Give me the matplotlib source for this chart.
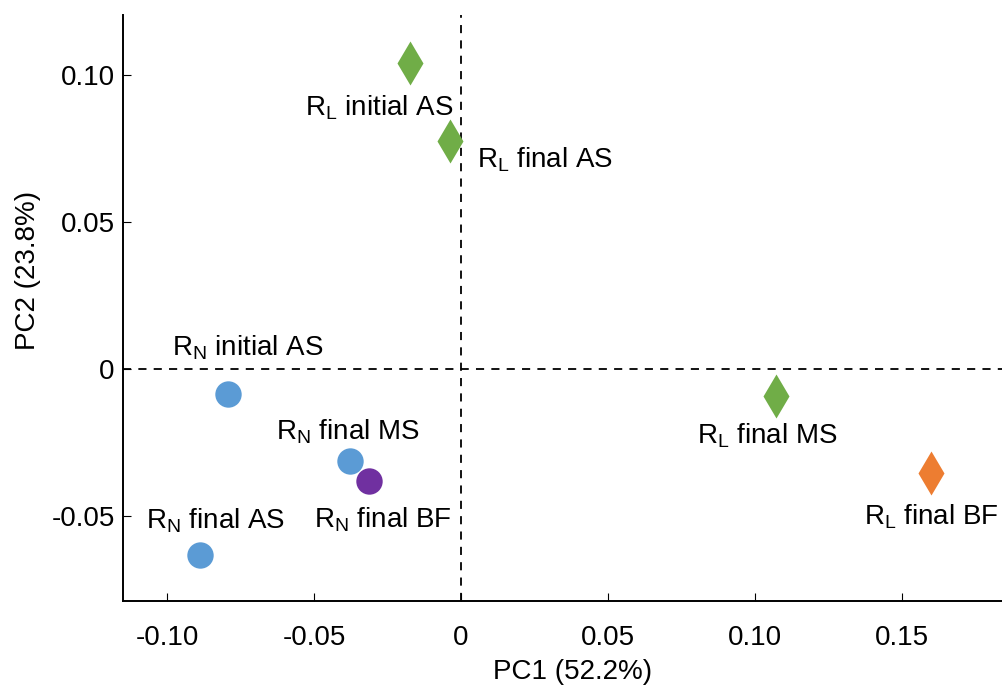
import matplotlib
matplotlib.use("Agg")
import matplotlib.pyplot as plt

plt.rcParams["font.family"] = ["Liberation Sans", "DejaVu Sans"]
plt.rcParams["mathtext.default"] = "regular"

# PCA scores
names = [
    r"R$_L$ initial AS", r"R$_L$ final AS", r"R$_L$ final MS", r"R$_L$ final BF",
    r"R$_N$ initial AS", r"R$_N$ final MS", r"R$_N$ final BF", r"R$_N$ final AS",
]
pc1 = [-0.0173, -0.0037, 0.107, 0.160, -0.0793, -0.0378, -0.0313, -0.0888]
pc2 = [0.104, 0.0776, -0.0092, -0.0354, -0.0085, -0.0313, -0.0381, -0.0633]
shapes = ["d", "d", "d", "d", "o", "o", "o", "o"]
colors = ["#70ad47", "#70ad47", "#70ad47", "#ed7d31",
          "#5b9bd5", "#5b9bd5", "#7030a0", "#5b9bd5"]

# label offsets (pixels, left edge / vertical centre relative to the point)
offsets = [(-105, -44), (27, -19), (-79, -40), (-67, -44),
           (-56, 46), (-74, 29), (-55, -39), (-54, 34)]

xticks = [-0.10, -0.05, 0, 0.05, 0.10, 0.15]
xticklabels = ["-0.10", "-0.05", "0", "0.05", "0.10", "0.15"]
yticks = [-0.05, 0, 0.05, 0.10]
yticklabels = ["-0.05", "0", "0.05", "0.10"]

fig = plt.figure(figsize=(10.02, 6.93), dpi=100)
ax = fig.add_axes([0.1228, 0.1328, 0.8772, 0.8452])

ax.axhline(0, color="black", lw=1.3, ls=(0, (4.5, 4)), zorder=1)
ax.axvline(0, color="black", lw=1.3, ls=(0, (4.5, 4)), zorder=1)

for x, y, m, c, name, (dx, dy) in zip(pc1, pc2, shapes, colors, names, offsets):
    ms = 22 if m == "d" else 19
    ax.plot(x, y, marker=m, ms=ms, color=c, mec="none", ls="none", zorder=3)
    ax.annotate(name, (x, y), xytext=(dx, dy), textcoords="offset pixels",
                ha="left", va="center", fontsize=20)

ax.set_xlim(-0.115, 0.184)
ax.set_ylim(-0.0789, 0.1204)
ax.set_xticks(xticks)
ax.set_xticklabels(xticklabels)
ax.set_yticks(yticks)
ax.set_yticklabels(yticklabels)
ax.tick_params(direction="in", length=6, width=0.8, labelsize=20)
ax.tick_params(axis="x", pad=17)
ax.tick_params(axis="y", pad=6)

for s in ["top", "right"]:
    ax.spines[s].set_visible(False)
for s in ["left", "bottom"]:
    ax.spines[s].set_linewidth(1.4)

ax.set_xlabel("PC1 (52.2%)", fontsize=20, va="center")
ax.xaxis.set_label_coords(0.511, -0.121)
ax.set_ylabel("PC2 (23.8%)", fontsize=20, va="center")
ax.yaxis.set_label_coords(-0.108, 0.565)

fig.savefig("out.png", dpi=100)
